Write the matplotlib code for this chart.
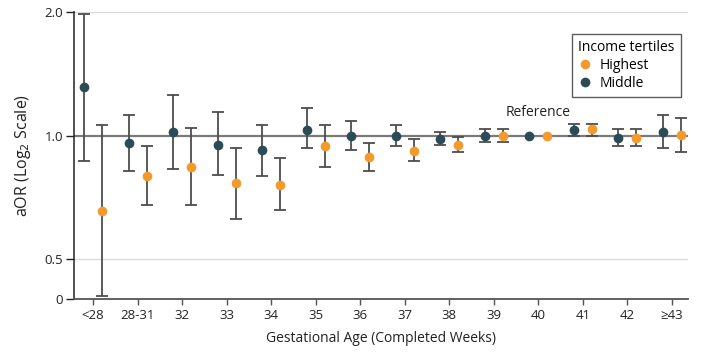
import numpy as np
import matplotlib.pyplot as plt
from matplotlib.ticker import FixedLocator, NullLocator

plt.rcParams['font.family'] = ['Open Sans', 'DejaVu Sans']

# Data
weeks = ['<28', '28-31', '32', '33', '34', '35', '36', '37', '38', '39', '40', '41', '42', '≥43']

middle_or = [1.316, 0.961, 1.019, 0.951, 0.921, 1.030, 1.000, 1.000, 0.981, 1.000, 1.000, 1.032, 0.989, 1.023]
middle_lo = [0.869, 0.821, 0.830, 0.800, 0.798, 0.933, 0.921, 0.942, 0.951, 0.967, 1.000, 1.000, 0.945, 0.931]
middle_hi = [1.980, 1.124, 1.255, 1.143, 1.062, 1.165, 1.084, 1.062, 1.019, 1.038, 1.000, 1.068, 1.036, 1.121]

highest_or = [0.657, 0.797, 0.838, 0.766, 0.757, 0.944, 0.888, 0.919, 0.951, 1.000, 1.000, 1.036, 0.989, 1.003]
highest_lo = [0.406, 0.678, 0.678, 0.628, 0.658, 0.838, 0.820, 0.870, 0.910, 0.967, 1.000, 1.000, 0.945, 0.910]
highest_hi = [1.062, 0.942, 1.044, 0.933, 0.882, 1.062, 0.960, 0.983, 0.993, 1.038, 1.000, 1.066, 1.036, 1.103]

orange = '#F39A2B'
teal = '#2B4C56'
bar_col = '#4d4d4d'

fig = plt.figure(figsize=(7.18, 3.56), dpi=100)
ax = fig.add_axes([0.103, 0.160, 0.855, 0.806])

x = np.arange(len(weeks))
off = 0.2

def draw(xs, val, lo, hi, color, label):
    val = np.array(val); lo = np.array(lo); hi = np.array(hi)
    err = np.vstack([val - lo, hi - val])
    has_ci = (hi - lo) > 1e-6
    ax.errorbar(xs[has_ci], val[has_ci], yerr=err[:, has_ci], fmt='none',
                ecolor=bar_col, elinewidth=1.3, capsize=4.5, capthick=1.3, zorder=3)
    ax.plot(xs, val, 'o', color=color, markersize=7, markeredgewidth=0,
            label=label, zorder=4)

ax.axhline(2.0, color='#dcdcdc', lw=1, zorder=1)
ax.axhline(0.5, color='#dcdcdc', lw=1, zorder=1)
ax.axhline(1.0, color='#7a7a7a', lw=1.6, zorder=2)

draw(x - off, middle_or, middle_lo, middle_hi, teal, 'Middle')
draw(x + off, highest_or, highest_lo, highest_hi, orange, 'Highest')

ax.set_yscale('log', base=2)
ax.set_ylim(0.4, 2.0)
ax.yaxis.set_major_locator(FixedLocator([0.4, 0.5, 1.0, 2.0]))
ax.yaxis.set_minor_locator(NullLocator())
ax.set_yticklabels(['0', '0.5', '1.0', '2.0'])

ax.set_xlim(-0.43, 13.36)
ax.set_xticks(x)
ax.set_xticklabels(weeks)

for s in ['top', 'right']:
    ax.spines[s].set_visible(False)
ax.spines['left'].set_color('#222222')
ax.spines['bottom'].set_color('#555555')
ax.spines['left'].set_linewidth(1.1)
ax.spines['bottom'].set_linewidth(1.3)
ax.tick_params(axis='y', length=6, width=1, colors='#222222', labelsize=9.5, pad=2)
ax.tick_params(axis='x', length=4, width=1, colors='#555555', labelsize=9.5, labelcolor='#222222')

ax.set_ylabel('aOR (Log$_2$ Scale)', fontsize=11.5, color='#222222', labelpad=8)
ax.set_xlabel('Gestational Age (Completed Weeks)', fontsize=10, color='#222222', labelpad=6)

ax.text(10, 1.14, 'Reference', ha='center', va='center', fontsize=10, color='#222222')

handles, labels = ax.get_legend_handles_labels()
leg = ax.legend(handles[::-1], labels[::-1], title='Income tertiles', loc='upper right',
                bbox_to_anchor=(0.989, 0.923), borderaxespad=0, fontsize=10, title_fontsize=10,
                frameon=True, fancybox=False, handletextpad=0.5, handlelength=1.0,
                borderpad=0.45, labelspacing=0.2, alignment='left')
leg.get_frame().set_edgecolor('#333333')
leg.get_frame().set_linewidth(1.0)

fig.savefig('out.png', dpi=100)
